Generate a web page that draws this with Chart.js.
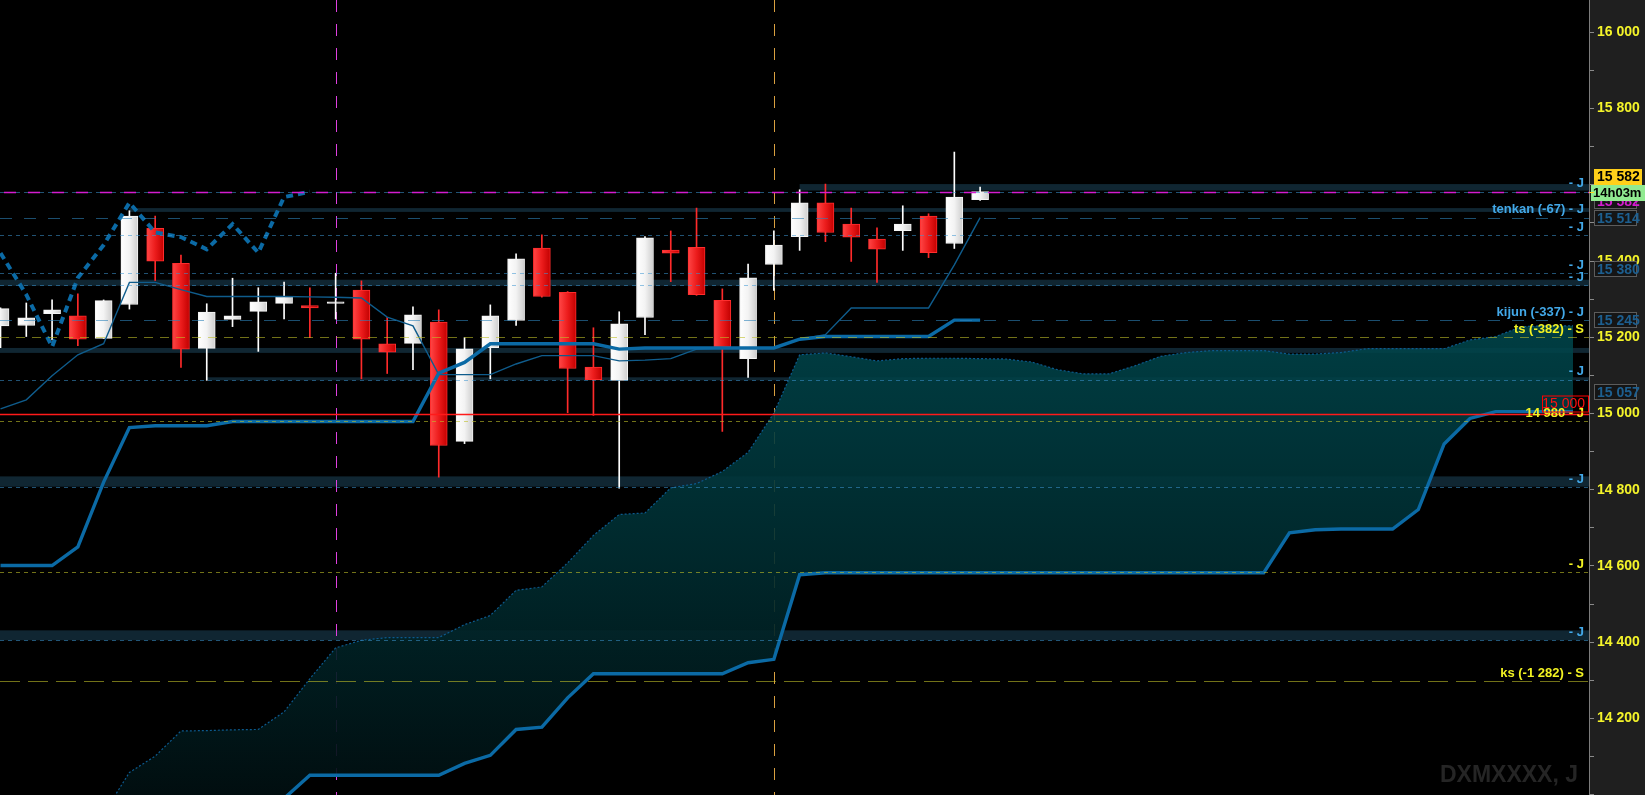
<!DOCTYPE html>
<html>
<head>
<meta charset="utf-8">
<title>DXMXXXX, J</title>
<script src="https://cdn.jsdelivr.net/npm/chart.js@4.4.1/dist/chart.umd.min.js"></script>
<style>
  html, body { margin: 0; padding: 0; background: #000; overflow: hidden; }
  canvas { display: block; }
</style>
</head>
<body>
<canvas id="ichimokuChart" width="1645" height="795"></canvas>
<script>
// ---------- candles (index 0 .. 38) ----------
const candleOpen  = [15230,15231,15262,15256,15197,15286,15486,15394,15171,15247,15268,15289,15283,15289,15324,15183,15184,15240,14927,15173,15244,15434,15318,15122,15087,15252,15429,15436,15297,15144,15391,15464,15553,15497,15458,15480,15518,15446,15561];
const candleHigh  = [15277,15290,15298,15314,15298,15532,15518,15416,15288,15355,15330,15345,15330,15368,15348,15252,15280,15272,15199,15285,15419,15469,15320,15225,15267,15464,15479,15539,15327,15392,15479,15587,15602,15539,15487,15545,15524,15686,15594];
const candleLow   = [15173,15202,15193,15178,15197,15274,15349,15121,15087,15228,15163,15248,15199,15248,15091,15105,15115,14833,14921,15091,15231,15305,15002,14995,14804,15207,15346,15310,14953,15095,15323,15428,15451,15399,15344,15428,15409,15433,15559];
const candleClose = [15275,15251,15272,15195,15296,15518,15400,15169,15266,15256,15293,15307,15277,15293,15195,15161,15259,14916,15170,15256,15406,15307,15118,15089,15235,15461,15421,15312,15175,15356,15442,15553,15475,15463,15431,15497,15422,15568,15582];

// ---------- ichimoku lines ----------
const tenkan = [15012,15036,15099,15154,15183,15344,15344,15325,15307,15307,15307,15307,15306,15305,15303,15253,15230,15102,15102,15102,15130,15152,15152,15152,15138,15140,15144,15169,15172,15172,15172,15195,15207,15277,15277,15277,15277,15390,15514];
const kijun  = [14601,14601,14601,14650,14820,14963,14968,14968,14968,14979,14979,14979,14979,14979,14979,14979,14979,15106,15134,15183,15183,15183,15183,15183,15169,15172,15172,15172,15172,15172,15172,15195,15202,15202,15202,15202,15202,15245,15245];
const chikou = [15421,15312,15175,15356,15442,15553,15475,15463,15431,15497,15422,15568,15582];

// cloud spans start at index 4 and run to index 61
const senkouStart = 4;
const senkouA = [13950,14058,14101,14167,14168,14170,14171,14217,14304,14385,14405,14412,14412,14412,14446,14470,14536,14545,14608,14680,14735,14739,14805,14816,14848,14898,15001,15154,15159,15149,15138,15144,15145,15145,15144,15143,15135,15115,15104,15104,15125,15150,15160,15165,15165,15165,15156,15156,15160,15170,15170,15170,15170,15193,15202,15228,15230,15230];
const senkouB = [13850,13870,13890,13910,13930,13950,13970,13990,14051,14051,14051,14051,14051,14051,14082,14103,14171,14177,14254,14317,14317,14317,14317,14317,14317,14346,14355,14577,14582,14582,14582,14582,14582,14582,14582,14582,14582,14582,14582,14582,14582,14582,14582,14582,14582,14582,14687,14695,14697,14697,14697,14748,14920,14987,15005,15005,15005,15005];

// ---------- horizontal levels ----------
const levelPrices = [15582, 15514, 15468, 15368, 15337, 15245, 15200, 15089, 15000, 14980, 14806, 14583, 14405, 14298];
const levelKinds  = ['price', 'long', 'short', 'short', 'short', 'long', 'ts', 'short', 'red', 'yshort', 'short', 'yshort', 'short', 'ks'];
const levelLabels = ['- J', 'tenkan (-67) - J', '- J', '- J', '- J', 'kijun (-337) - J', 'ts (-382) - S', '- J', '', '14 980 - J', '- J', '- J', '- J', 'ks (-1 282) - S'];

// shaded zones [low, high] and the candle index they start from
const bandLow   = [15585, 15529, 15335, 15159, 15087, 14808, 14405];
const bandHigh  = [15602, 15539, 15351, 15172, 15095, 14835, 14431];
const bandStart = [31, 5, 0, 0, 8, 0, 0];

// vertical session markers (candle index)
const markerIdx    = [13, 30];
const markerColors = ['#e040e0', '#d9a040'];

// axis tags
const tagPrices = [15514, 15380, 15245, 15057];
const lastPrice = 15582;
const timerText = '14h03m';
const alertPrice = 15000;
const symbolName = 'DXMXXXX, J';

// ---------- helpers ----------
function fmt(v) {
  return String(Math.round(v)).replace(/\B(?=(\d{3})+(?!\d))/g, ' ');
}
function pts(values, start) {
  return values.map((v, i) => ({ x: i + start, y: v }));
}
const FONT = "'Liberation Sans', Arial, sans-serif";
const BLUE_LINE = '#0b6aa5';

const levelStyle = {
  price:  { color: 'rgba(60,150,210,0.55)', dash: [4, 4], width: 1, label: '#42a8e8' },
  long:   { color: 'rgba(45,130,185,0.6)',  dash: [12, 12], width: 1, label: '#42a8e8' },
  short:  { color: 'rgba(60,150,210,0.55)', dash: [4, 4], width: 1, label: '#42a8e8' },
  ts:     { color: 'rgba(190,190,40,0.6)',  dash: [9, 7], width: 1, label: '#f2f222' },
  red:    { color: '#ff1a1a', dash: [], width: 1.6, label: '#f2f222' },
  yshort: { color: 'rgba(190,190,40,0.6)',  dash: [4, 4], width: 1, label: '#f2f222' },
  ks:     { color: 'rgba(190,190,40,0.6)',  dash: [20, 8], width: 1, label: '#f2f222' }
};

function bodyFill(ctx) {
  const i = ctx.dataIndex;
  const chart = ctx.chart;
  const bull = candleClose[i] >= candleOpen[i];
  if (!chart.chartArea) return bull ? '#f0f0f0' : '#e01010';
  const x = chart.scales.x.getPixelForValue(i);
  const g = chart.ctx.createLinearGradient(x - 8.5, 0, x + 8.5, 0);
  if (bull) {
    g.addColorStop(0, '#ffffff');
    g.addColorStop(0.5, '#f3f3f3');
    g.addColorStop(1, '#cdcdcd');
  } else {
    g.addColorStop(0, '#ff4646');
    g.addColorStop(0.5, '#ec1c1c');
    g.addColorStop(1, '#c20000');
  }
  return g;
}

function cloudFill(ctx) {
  const chart = ctx.chart;
  if (!chart.chartArea) return 'rgba(0,50,55,0.85)';
  const y = chart.scales.y;
  const g = chart.ctx.createLinearGradient(0, y.getPixelForValue(15230), 0, y.getPixelForValue(14000));
  g.addColorStop(0, 'rgba(0,70,76,0.88)');
  g.addColorStop(0.5, 'rgba(0,44,48,0.9)');
  g.addColorStop(1, 'rgba(1,15,17,0.92)');
  return g;
}

// ---------- overlay plugin ----------
const overlayPlugin = {
  id: 'overlay',
  beforeDraw(chart) {
    const c = chart.ctx, a = chart.chartArea;
    c.save();
    c.fillStyle = '#000';
    c.fillRect(0, 0, chart.width, chart.height);
    c.fillStyle = '#1f1f1f';
    c.fillRect(a.right, 0, chart.width - a.right, chart.height);
    c.restore();
  },
  beforeDatasetsDraw(chart) {
    const c = chart.ctx, a = chart.chartArea, xs = chart.scales.x, ys = chart.scales.y;
    c.save();
    // watermark
    c.font = 'bold 23px ' + FONT;
    c.fillStyle = '#252525';
    c.textAlign = 'right';
    c.textBaseline = 'alphabetic';
    c.fillText(symbolName, a.right - 11, 782);
    // shaded zones
    c.fillStyle = 'rgba(40,95,125,0.4)';
    bandLow.forEach((lo, i) => {
      const y1 = ys.getPixelForValue(bandHigh[i]);
      const y2 = ys.getPixelForValue(lo);
      const x0 = bandStart[i] === 0 ? a.left : xs.getPixelForValue(bandStart[i]);
      c.fillRect(x0, y1, a.right - x0, y2 - y1);
    });
    // vertical markers
    c.lineWidth = 1;
    c.setLineDash([12, 12]);
    markerIdx.forEach((idx, i) => {
      const x = Math.round(xs.getPixelForValue(idx)) + 0.5;
      c.strokeStyle = markerColors[i];
      c.beginPath();
      c.moveTo(x, a.top);
      c.lineTo(x, a.bottom);
      c.stroke();
    });
    c.restore();
  },
  afterDatasetsDraw(chart) {
    const c = chart.ctx, a = chart.chartArea, ys = chart.scales.y;
    c.save();
    levelPrices.forEach((p, i) => {
      const st = levelStyle[levelKinds[i]];
      const y = Math.round(ys.getPixelForValue(p)) + 0.5;
      c.strokeStyle = st.color;
      c.lineWidth = st.width;
      c.setLineDash(st.dash);
      c.beginPath();
      c.moveTo(a.left, y);
      c.lineTo(a.right, y);
      c.stroke();
      if (levelKinds[i] === 'price') {
        c.strokeStyle = '#d41ccf';
        c.lineWidth = 1.5;
        c.setLineDash([12, 12]);
        c.lineDashOffset = -4;
        c.beginPath();
        c.moveTo(a.left, y);
        c.lineTo(a.right, y);
        c.stroke();
        c.lineDashOffset = 0;
      }
    });
    c.setLineDash([]);
    c.font = 'bold 13px ' + FONT;
    c.textAlign = 'right';
    c.textBaseline = 'middle';
    levelPrices.forEach((p, i) => {
      if (!levelLabels[i]) return;
      const y = ys.getPixelForValue(p);
      c.fillStyle = levelStyle[levelKinds[i]].label;
      c.fillText(levelLabels[i], a.right - 5, y - 8);
    });
    c.restore();
  },
  afterDraw(chart) {
    const c = chart.ctx, a = chart.chartArea, ys = chart.scales.y;
    c.save();
    c.textBaseline = 'middle';
    c.textAlign = 'left';
    c.font = 'bold 14px ' + FONT;
    // level tags on the axis
    tagPrices.forEach(p => {
      const y = Math.round(ys.getPixelForValue(p));
      c.fillStyle = '#151515';
      c.fillRect(a.right + 5, y - 8, 43, 16);
      c.strokeStyle = '#5c5c5c';
      c.lineWidth = 1;
      c.strokeRect(a.right + 5.5, y - 7.5, 42, 15);
      c.fillStyle = '#1d5f90';
      c.fillText(fmt(p), a.right + 8, y + 1);
    });
    // last price stack
    const py = Math.round(ys.getPixelForValue(lastPrice));
    c.fillStyle = '#151515';
    c.fillRect(a.right + 5, py + 1, 43, 16);
    c.strokeStyle = '#5c5c5c';
    c.strokeRect(a.right + 5.5, py + 1.5, 42, 15);
    c.fillStyle = '#d41ccf';
    c.fillText(fmt(lastPrice), a.right + 8, py + 10);

    c.fillStyle = '#90ea90';
    c.fillRect(a.right + 2, py - 7, chart.width - a.right - 2, 16);
    c.fillStyle = '#000';
    c.font = 'bold 13px ' + FONT;
    c.fillText(timerText, a.right + 4, py + 1);

    c.fillStyle = '#ffcf1a';
    c.fillRect(a.right + 5, py - 23, 48, 16);
    c.fillStyle = '#000';
    c.font = 'bold 14px ' + FONT;
    c.fillText(fmt(lastPrice), a.right + 8, py - 15);

    c.strokeStyle = '#ffd21f';
    c.beginPath();
    c.moveTo(a.right, py + 0.5);
    c.lineTo(a.right + 5, py + 0.5);
    c.stroke();

    // alert box
    const ry = ys.getPixelForValue(alertPrice);
    c.strokeStyle = '#ff0000';
    c.lineWidth = 1;
    c.strokeRect(a.right - 46.5, ry - 17.5, 46, 16);
    c.fillStyle = '#ff1010';
    c.font = '14px ' + FONT;
    c.textAlign = 'right';
    c.fillText(fmt(alertPrice), a.right - 4, ry - 9);
    c.restore();
  }
};

// ---------- chart ----------
const ctxChart = document.getElementById('ichimokuChart');
new Chart(ctxChart, {
  type: 'bar',
  data: {
    datasets: [
      {
        label: 'wick',
        type: 'bar',
        data: candleOpen.map((o, i) => ({ x: i, y: [candleLow[i], candleHigh[i]] })),
        backgroundColor: candleOpen.map((o, i) => candleClose[i] >= o ? '#ffffff' : '#ff2a2a'),
        barThickness: 1,
        grouped: false,
        order: 6
      },
      {
        label: 'body',
        type: 'bar',
        data: candleOpen.map((o, i) => ({ x: i, y: [o, candleClose[i]] })),
        backgroundColor: bodyFill,
        borderColor: candleOpen.map((o, i) => candleClose[i] >= o ? '#f4f4f4' : '#ff2d2d'),
        borderWidth: 1,
        borderSkipped: false,
        barThickness: 17,
        grouped: false,
        order: 5
      },
      {
        label: 'tenkan',
        type: 'line',
        data: pts(tenkan, 0),
        borderColor: '#0f5c8c',
        borderWidth: 1.4,
        pointRadius: 0,
        fill: false,
        order: 3
      },
      {
        label: 'kijun',
        type: 'line',
        data: pts(kijun, 0),
        borderColor: BLUE_LINE,
        borderWidth: 3.4,
        pointRadius: 0,
        fill: false,
        order: 2
      },
      {
        label: 'chikou',
        type: 'line',
        data: pts(chikou, 0),
        borderColor: BLUE_LINE,
        borderWidth: 4,
        borderDash: [7, 5],
        pointRadius: 0,
        fill: false,
        order: 2
      },
      {
        label: 'senkou A',
        type: 'line',
        data: pts(senkouA, senkouStart),
        borderColor: '#0c5a8e',
        borderWidth: 1.2,
        borderDash: [2, 2],
        pointRadius: 0,
        fill: '+1',
        backgroundColor: cloudFill,
        order: 9
      },
      {
        label: 'senkou B',
        type: 'line',
        data: pts(senkouB, senkouStart),
        borderColor: BLUE_LINE,
        borderWidth: 3.4,
        pointRadius: 0,
        fill: false,
        order: 2
      }
    ]
  },
  options: {
    responsive: false,
    devicePixelRatio: 1,
    animation: false,
    layout: { padding: 0 },
    plugins: {
      legend: { display: false },
      tooltip: { enabled: false }
    },
    scales: {
      x: {
        type: 'linear',
        display: false,
        offset: false,
        min: -0.02,
        max: 61.62
      },
      y: {
        type: 'linear',
        position: 'right',
        min: 13999,
        max: 16085,
        afterFit(scale) {
          scale.width = 56;
          scale.paddingTop = 0;
          scale.paddingBottom = 0;
        },
        ticks: {
          stepSize: 100,
          includeBounds: false,
          autoSkip: false,
          padding: 3,
          color: '#f4f42a',
          font: { family: FONT, weight: 'bold', size: 14 },
          callback: v => (v % 200 === 0 && v > 14000) ? fmt(v) : ''
        },
        grid: {
          drawOnChartArea: false,
          drawTicks: true,
          tickLength: 5,
          color: '#8a8a8a'
        },
        border: { display: true, color: '#7c7c7c' }
      }
    }
  },
  plugins: [overlayPlugin]
});
</script>
</body>
</html>
